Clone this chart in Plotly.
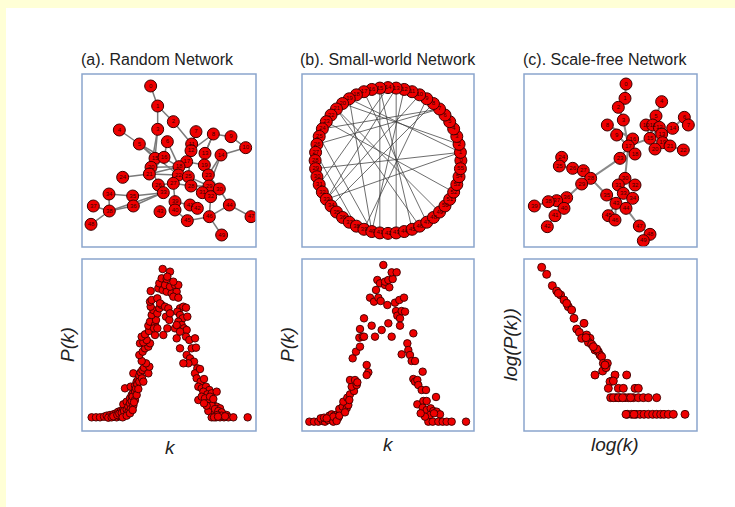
import plotly.graph_objects as go

W, H = 735, 507

# ---------------- titles / labels ----------------
panel_titles = ["(a). Random Network", "(b). Small-world Network", "(c). Scale-free Network"]
x_labels = ["k", "k", "log(k)"]
y_labels = ["P(k)", "P(k)", "log(P(k))"]

# ---------------- (a) random network layout ----------------
rand_x = [212, 233, 280, 233, 118, 178, 262, 348, 400, 453, 497, 335, 333, 375, 423, 225, 252,
          320, 297, 373, 213, 208, 295, 385, 128, 325, 235, 280, 333, 387, 418, 367, 392, 250,
          87, 158, 160, 40, 88, 285, 285, 330, 352, 240, 448, 322, 388, 513, 33, 425]
rand_y = [48, 108, 155, 178, 180, 222, 215, 185, 192, 200, 233, 222, 242, 250, 255, 265, 262,
          275, 290, 285, 292, 312, 315, 315, 322, 320, 345, 340, 348, 348, 357, 368, 380, 368,
          372, 378, 408, 408, 423, 395, 420, 405, 415, 425, 405, 452, 440, 440, 463, 495]
rand_edges = [(1, 2), (2, 3), (2, 4), (3, 12), (4, 16), (4, 21), (5, 6), (6, 16), (6, 19), (7, 19),
              (7, 17), (8, 13), (8, 12), (9, 10), (9, 13), (10, 11), (11, 15), (15, 24), (15, 30),
              (14, 20), (13, 18), (12, 18), (16, 21), (17, 22), (21, 22), (22, 25), (21, 19),
              (19, 23), (18, 20), (20, 24), (23, 26), (26, 29), (28, 23), (28, 27), (27, 34),
              (34, 36), (36, 35), (35, 39), (39, 38), (39, 37), (37, 36), (39, 34), (37, 34),
              (49, 39), (28, 40), (40, 41), (41, 46), (42, 43), (40, 42), (29, 32), (32, 33),
              (30, 31), (31, 45), (45, 48), (45, 47), (47, 46), (47, 50), (33, 47), (29, 30),
              (24, 31), (26, 30), (22, 23), (16, 17), (18, 19), (14, 9), (28, 29), (27, 21),
              (6, 23), (9, 14), (12, 26), (22, 19)]

# ---------------- (b) small-world ring ----------------
ring_nodes = list(range(56))
ring_chords = [(20, 2), (21, 49), (15, 41), (13, 43), (8, 34), (29, 1), (26, 7), (15, 45),
               (19, 40), (9, 39), (13, 33), (1, 19), (27, 38), (31, 14), (21, 46), (25, 40),
               (1, 33), (7, 24), (12, 40), (10, 33), (17, 47), (23, 52)]

# ---------------- (c) scale-free network layout ----------------
sf_x = [318, 315, 295, 310, 425, 408, 493, 505, 262, 290, 378, 398, 418, 425, 458, 390, 338, 325,
        345, 428, 405, 450, 490, 300, 125, 118, 158, 190, 212, 185, 315, 295, 345, 310, 338, 260,
        140, 110, 85, 43, 132, 105, 82, 288, 318, 265, 285, 358, 390, 370]
sf_y = [42, 85, 112, 150, 95, 138, 142, 165, 165, 195, 165, 165, 172, 192, 175, 205, 207, 228,
        252, 218, 237, 228, 240, 265, 262, 288, 295, 302, 325, 342, 325, 345, 345, 370, 385, 375,
        383, 392, 395, 408, 415, 437, 470, 400, 415, 437, 450, 468, 493, 512]
sf_edges = [(1, 2), (2, 3), (3, 4), (4, 18), (10, 18), (17, 18), (18, 19), (18, 16), (16, 11),
            (16, 12), (16, 13), (16, 14), (16, 6), (6, 5), (14, 15), (15, 7), (7, 8), (16, 20),
            (16, 21), (20, 22), (22, 23), (18, 24), (24, 29), (18, 31), (31, 32), (31, 33),
            (32, 34), (34, 35), (34, 44), (44, 45), (45, 48), (48, 49), (49, 50), (44, 46),
            (44, 47), (29, 28), (28, 27), (25, 26), (27, 26), (29, 30), (30, 37), (37, 38),
            (38, 39), (39, 40), (37, 41), (41, 42), (42, 43), (29, 36), (36, 44), (9, 17)]

# ---------------- degree distributions ----------------
k_random = [35, 48, 60, 72, 80, 90, 100, 108, 115, 122, 130, 85, 95, 110, 120, 128, 135, 138, 142,
            148, 130, 140, 150, 155, 160, 135, 152, 165, 170, 175, 160, 178, 182, 187, 192, 205,
            208, 198, 185, 178, 188, 195, 205, 210, 180, 190, 200, 185, 195, 207, 225, 205, 210,
            225, 228, 215, 220, 232, 238, 245, 212, 210, 215, 232, 250, 262, 258, 268, 240, 255,
            265, 270, 212, 235, 248, 260, 275, 290, 280, 295, 238, 255, 270, 285, 295, 245, 260,
            270, 248, 262, 280, 300, 310, 318, 292, 300, 308, 322, 295, 305, 312, 320, 290, 300,
            318, 328, 345, 335, 348, 320, 330, 342, 325, 310, 352, 345, 360, 350, 362, 372, 355,
            365, 378, 388, 370, 382, 395, 410, 355, 380, 392, 400, 410, 420, 398, 385, 405, 418,
            430, 440, 395, 408, 420, 432, 445, 460, 503,
            100, 112, 118, 125, 132, 140, 145, 150, 155, 158, 165, 168, 172, 178, 145, 152, 160,
            165, 128, 140, 150, 158, 162, 170, 175, 186, 190,
            365, 375, 385, 395, 405, 415, 425, 390, 400, 380, 372, 412, 425, 435, 402, 414,
            222, 232, 285, 290, 300]
p_random = [33, 33, 33, 35, 38, 40, 42, 45, 50, 52, 58, 32, 33, 33, 36, 40, 42, 50, 62,
            70, 72, 80, 90, 100, 108, 120, 125, 128, 140, 148, 165, 158, 168, 175, 182, 165,
            185, 195, 202, 220, 230, 240, 245, 255, 255, 258, 265, 275, 282, 292, 280, 308, 320,
            310, 325, 340, 355, 345, 360, 370, 365, 380, 385, 390, 280, 300, 335, 325, 375, 365,
            360, 345, 412, 420, 415, 410, 405, 410, 395, 392, 435, 430, 425, 430, 430, 450, 448,
            470, 478, 455, 440, 360, 365, 362, 350, 340, 330, 335, 320, 310, 300, 295, 270, 240,
            275, 265, 270, 240, 242, 220, 210, 200, 195, 195, 180, 165, 178, 150, 140, 148, 125,
            120, 125, 115, 110, 102, 105, 110, 85, 85, 80, 70, 65, 60, 55, 52, 48, 45,
            42, 40, 33, 33, 33, 33, 33, 33, 33,
            36, 40, 44, 46, 52, 56, 65, 75, 82, 95, 112, 120, 132, 140, 48, 58, 68,
            85, 33, 38, 45, 55, 78, 100, 118, 150, 140,
            95, 90, 78, 68, 58, 52, 48, 95, 88, 68, 75, 40, 38, 36, 33, 35,
            300, 300, 300, 310, 290]

k_small = [28, 42, 55, 68, 75, 85, 95, 100, 108, 115, 62, 72, 88, 95, 105, 112, 120, 125, 132,
           118, 128, 140, 145, 130, 142, 150, 162, 155, 170, 150, 165, 172, 200, 205, 200, 158,
           168, 180, 178, 188, 192, 180, 192, 215, 225, 245, 265, 275, 210, 222, 235, 242, 262,
           228, 232, 240, 255, 268, 255, 265, 278, 275, 290, 250, 285, 298, 312, 288, 292, 300,
           305, 315, 300, 305, 322, 325, 330, 335, 345, 340, 340, 345, 352, 368, 355, 365, 378,
           352, 370, 380, 368, 380, 392, 400, 410, 408, 420, 385, 398, 415, 428, 440, 455, 498,
           100, 80, 110, 118, 135, 148, 390, 402, 375, 362]
p_small = [20, 20, 20, 22, 20, 25, 28, 20, 30, 32, 30, 32, 38, 42, 40, 42, 45, 50, 55,
           58, 65, 60, 70, 80, 92, 102, 112, 125, 130, 145, 145, 138, 190, 168, 160, 210,
           230, 245, 272, 275, 275, 298, 330, 308, 275, 295, 315, 275, 392, 380, 392, 382, 370,
           415, 445, 435, 430, 423, 440, 445, 448, 468, 468, 490, 377, 385, 392, 352, 338, 330,
           352, 350, 308, 222, 255, 235, 220, 202, 202, 285, 148, 140, 145, 170, 130, 115, 115,
           72, 82, 82, 62, 55, 60, 52, 50, 94, 42, 20, 20, 20, 20, 20, 20, 20,
           35, 30, 22, 38, 48, 85, 40, 45, 35, 45]

logk_sf = [65, 80, 97, 110, 122, 132, 145, 155, 162, 170, 178, 192, 185, 200, 210, 205, 215, 225,
           235, 240, 245, 250, 262, 225, 248, 258, 285, 320, 275, 270, 280, 265, 295, 310, 345,
           355, 272, 288, 300, 315, 325, 340, 355, 370, 385, 410, 322, 335, 348, 360, 372, 385,
           398, 410, 422, 432, 445, 460, 495,
           255, 230, 220, 198, 140, 115, 280, 295, 308, 332, 318, 342]
logp_sf = [483, 462, 428, 412, 400, 385, 365, 355, 330, 298, 288, 315, 270, 280, 270, 258, 252, 235,
           230, 220, 215, 195, 195, 160, 172, 182, 160, 160, 142, 140, 142, 120, 120, 120, 120,
           120, 92, 92, 92, 92, 92, 92, 92, 92, 92, 92, 42, 42, 42, 42, 42, 42,
           42, 42, 42, 42, 42, 42, 42,
           190, 238, 245, 272, 375, 405, 92, 92, 92, 92, 42, 42]

# ---------------- styling ----------------
RED = "#ee0000"
OUT = "#3a0000"
FRAME = "#8ba5cd"
EDGE = "#7a7a7a"


def px_x(p):
    return p / W


def px_y(p):
    return 1 - p / H


cols = [(82, 256), (302, 474), (524, 697)]
top_row = (74, 247)
bot_row = (259, 431)


def dom(col, row):
    return [px_x(col[0]), px_x(col[1])], [px_y(row[1]), px_y(row[0])]


def edge_xy(xs, ys, edges):
    ex, ey = [], []
    for a, b in edges:
        ex += [xs[a - 1], xs[b - 1], None]
        ey += [ys[a - 1], ys[b - 1], None]
    return ex, ey


fig = go.Figure()

node_marker = dict(size=12, color=RED, line=dict(color=OUT, width=1))
dot_marker = dict(size=7.5, color=RED, line=dict(color=OUT, width=0.9))
node_font = dict(size=6, color="#3a0000", family="Liberation Sans")

# (a) top
ex, ey = edge_xy(rand_x, rand_y, rand_edges)
fig.add_trace(go.Scatter(x=ex, y=ey, mode="lines", line=dict(color=EDGE, width=1.5),
                         xaxis="x", yaxis="y", hoverinfo="skip"))
fig.add_trace(go.Scatter(x=rand_x, y=rand_y, mode="markers+text", marker=node_marker,
                         text=[str(i) for i in range(len(rand_x))], textfont=node_font,
                         xaxis="x", yaxis="y"))

# (b) top - ring in polar coordinates
n_ring = len(ring_nodes)
theta = [i * 360.0 / n_ring for i in ring_nodes]
cx_t, cx_r = [], []
for a, b in ring_chords:
    cx_t += [theta[a], theta[b], None]
    cx_r += [1, 1, None]
fig.add_trace(go.Scatterpolar(theta=cx_t, r=cx_r, mode="lines",
                              line=dict(color="rgba(60,60,60,0.75)", width=1),
                              subplot="polar", hoverinfo="skip"))
fig.add_trace(go.Scatterpolar(theta=theta, r=[1] * n_ring, mode="markers+text",
                              marker=node_marker, text=[str(i) for i in ring_nodes],
                              textfont=node_font, subplot="polar"))

# (c) top
ex, ey = edge_xy(sf_x, sf_y, sf_edges)
fig.add_trace(go.Scatter(x=ex, y=ey, mode="lines", line=dict(color="#8a8a8a", width=2),
                         xaxis="x2", yaxis="y2", hoverinfo="skip"))
fig.add_trace(go.Scatter(x=sf_x, y=sf_y, mode="markers+text", marker=node_marker,
                         text=[str(i) for i in range(len(sf_x))], textfont=node_font,
                         xaxis="x2", yaxis="y2"))

# bottom row
fig.add_trace(go.Scatter(x=k_random, y=p_random, mode="markers", marker=dot_marker,
                         xaxis="x3", yaxis="y3"))
fig.add_trace(go.Scatter(x=k_small, y=p_small, mode="markers", marker=dot_marker,
                         xaxis="x4", yaxis="y4"))
fig.add_trace(go.Scatter(x=logk_sf, y=logp_sf, mode="markers", marker=dict(dot_marker, size=8),
                         xaxis="x5", yaxis="y5"))

ax_common = dict(showgrid=False, zeroline=False, showticklabels=False, showline=False,
                 ticks="", fixedrange=True)

layout_axes = {}
specs = [
    ("xaxis", "yaxis", cols[0], top_row, [6, 528], [531, 12]),
    ("xaxis2", "yaxis2", cols[2], top_row, [12, 531], [531, 12]),
    ("xaxis3", "yaxis3", cols[0], bot_row, [6, 528], [-8, 508]),
    ("xaxis4", "yaxis4", cols[1], bot_row, [6, 522], [-8, 508]),
    ("xaxis5", "yaxis5", cols[2], bot_row, [12, 531], [-8, 508]),
]
for xa, ya, col, row, xr, yr in specs:
    dx, dy = dom(col, row)
    yname = "y" + ya[5:]
    xname = "x" + xa[5:]
    layout_axes[xa] = dict(ax_common, domain=dx, range=xr, anchor=yname)
    layout_axes[ya] = dict(ax_common, domain=dy, range=yr, anchor=xname)

pdx, pdy = dom(cols[1], top_row)

shapes = [dict(type="rect", xref="paper", yref="paper", x0=px_x(6), x1=1.0, y0=0, y1=px_y(8),
               fillcolor="white", line=dict(width=0), layer="below")]
for col in cols:
    for row in (top_row, bot_row):
        dx, dy = dom(col, row)
        shapes.append(dict(type="rect", xref="paper", yref="paper", x0=dx[0], x1=dx[1],
                           y0=dy[0], y1=dy[1], line=dict(color=FRAME, width=1.5),
                           fillcolor="rgba(0,0,0,0)", layer="above"))

annotations = []
title_cx = [157, 388, 605]
for t, cx in zip(panel_titles, title_cx):
    annotations.append(dict(text=t, x=px_x(cx), y=px_y(60), xref="paper", yref="paper",
                            showarrow=False, xanchor="center", yanchor="middle",
                            font=dict(size=16, color="#222222", family="Liberation Sans")))
xl_pos = [(170, 447), (388, 444), (615, 444)]
for t, (cx, cy) in zip(x_labels, xl_pos):
    annotations.append(dict(text="<i>" + t + "</i>", x=px_x(cx), y=px_y(cy), xref="paper",
                            yref="paper", showarrow=False, xanchor="center", yanchor="middle",
                            font=dict(size=19, color="#222222", family="Liberation Sans")))
yl_pos = [(67, 345), (287, 345), (510, 345)]
for t, (cx, cy) in zip(y_labels, yl_pos):
    annotations.append(dict(text="<i>" + t + "</i>", x=px_x(cx), y=px_y(cy), xref="paper",
                            yref="paper", showarrow=False, xanchor="center", yanchor="middle",
                            textangle=-90,
                            font=dict(size=19, color="#222222", family="Liberation Sans")))

fig.update_layout(
    width=W, height=H, margin=dict(l=0, r=0, t=0, b=0),
    paper_bgcolor="#ffffd6", plot_bgcolor="rgba(0,0,0,0)",
    showlegend=False,
    shapes=shapes, annotations=annotations,
    polar=dict(domain=dict(x=pdx, y=pdy), bgcolor="rgba(0,0,0,0)",
               radialaxis=dict(range=[0, 1.18], visible=False, showgrid=False),
               angularaxis=dict(visible=False, showgrid=False, rotation=0,
                                direction="counterclockwise")),
    **layout_axes,
)

fig.write_html("out.html", config={"displayModeBar": False},
               post_script="document.body.style.margin='0';document.body.style.overflow='hidden';")
